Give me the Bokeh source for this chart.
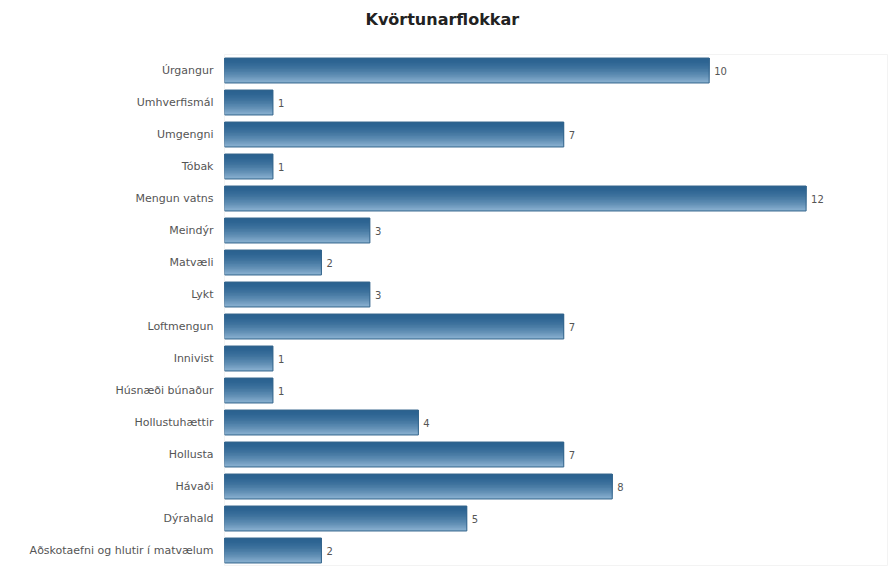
from bokeh.plotting import figure
from bokeh.models import ColumnDataSource, Range1d, FactorRange
from bokeh.transform import dodge
from bokeh.core.properties import value
from bokeh.embed import file_html
from bokeh.resources import INLINE

title_text = "Kvörtunarflokkar"
categories = ["Úrgangur", "Umhverfismál", "Umgengni", "Tóbak", "Mengun vatns",
              "Meindýr", "Matvæli", "Lykt", "Loftmengun", "Innivist",
              "Húsnæði búnaður", "Hollustuhættir", "Hollusta", "Hávaði",
              "Dýrahald", "Aðskotaefni og hlutir í matvælum"]
counts = [10, 1, 7, 1, 12, 3, 2, 3, 7, 1, 1, 4, 7, 8, 5, 2]

FONT = "DejaVu Sans"
W, H = 888, 566
p = figure(width=W, height=H, output_backend="svg", toolbar_location=None,
           y_range=FactorRange(factors=list(reversed(categories))),
           x_range=Range1d(0, 13.7),
           min_border_left=224, min_border_right=0, min_border_top=54, min_border_bottom=0)
p.title.text = title_text + "\n "
p.title.align = "left"
p.title.vertical_align = "top"
p.title.offset = 141
p.title.standoff = 10
p.title.text_font = FONT
p.title.text_font_size = "16px"
p.title.text_font_style = "bold"
p.title.text_color = "#222222"

p.xaxis.visible = False
p.xgrid.visible = False
p.ygrid.visible = False
p.outline_line_color = "#f3f3f3"
p.background_fill_color = "white"
p.border_fill_color = "white"
p.yaxis.axis_line_color = None
p.yaxis.major_tick_line_color = None
p.yaxis.minor_tick_line_color = None
p.yaxis.major_label_text_font = FONT
p.yaxis.major_label_text_font_size = "11px"
p.yaxis.major_label_text_color = "#555555"
p.yaxis.major_label_standoff = 5

src = ColumnDataSource(dict(cat=categories, val=counts, lbl=[str(v) for v in counts]))

# vertical gradient: nested bars anchored at the bar top, lightest (full) first
bar_h = 0.78
N = 16
top = (0x2a, 0x62, 0x90)
bot = (0x8e, 0xb4, 0xd3)
for i in reversed(range(N)):
    t = (i + 0.5) / N
    tt = t ** 1.7
    c = tuple(int(round(top[k] + (bot[k] - top[k]) * tt)) for k in range(3))
    col = "#%02x%02x%02x" % c
    h = (i + 1) * bar_h / N
    off = bar_h / 2 - h / 2
    p.hbar(y=dodge("cat", off, range=p.y_range), right="val", left=0,
           height=h, source=src, fill_color=col, line_color=None)
p.hbar(y="cat", right="val", left=0, height=bar_h, source=src,
       fill_color=None, line_color="#34658c", line_width=1)

p.text(x="val", y="cat", text="lbl", source=src, x_offset=5,
       text_font=value(FONT), text_font_size="10px", text_color="#555555",
       text_baseline="middle", text_align="left")

open("out.html", "w").write(file_html(p, INLINE))
